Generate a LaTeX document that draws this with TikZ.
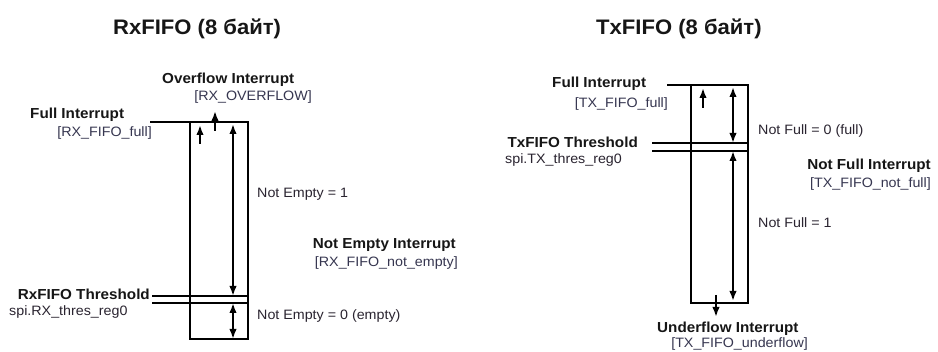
\documentclass[tikz,border=0pt]{standalone}
\usepackage{fontspec}
\setmainfont{Liberation Sans}[FakeStretch=1.05]
\usetikzlibrary{arrows.meta}
\definecolor{txtc}{HTML}{2A2430}
\definecolor{boldc}{HTML}{161616}
\definecolor{brc}{HTML}{363650}
\begin{document}
\begin{tikzpicture}[x=1pt,y=-1pt,
  norm/.style={font=\fontsize{13.6}{15}\selectfont, text=txtc, inner sep=0pt},
  bld/.style={font=\fontsize{14.5}{16}\selectfont\bfseries, text=boldc, inner sep=0pt},
  brk/.style={font=\fontsize{13.6}{15}\selectfont, text=brc, inner sep=0pt},
  ttl/.style={font=\fontsize{21}{23}\selectfont\bfseries, text=boldc, inner sep=0pt},
  ln/.style={line width=2.5pt},
  arr/.style={line width=2.2pt, -{Latex[length=10pt,width=7.5pt]}},
  darr/.style={line width=2.2pt, {Latex[length=10pt,width=7.5pt]}-{Latex[length=10pt,width=7.5pt]}}]
\useasboundingbox[fill=white] (0,0) rectangle (938,352);

% ===== RxFIFO =====
\node[ttl, anchor=base west] (rxt) at (113,35) {RxFIFO (8 байт)};
\draw[ln] (190,122) rectangle (248,339);
\coordinate (rxtopL) at (150,122);
\coordinate (rxtopR) at (248,122);
\draw[ln] (rxtopL) -- (rxtopR);
\coordinate (rxth1L) at (152,296); \coordinate (rxth1R) at (248,296);
\coordinate (rxth2L) at (152,303); \coordinate (rxth2R) at (248,303);
\draw[ln] (rxth1L) -- (rxth1R);
\draw[ln] (rxth2L) -- (rxth2R);
% arrows
\coordinate (ra1) at (200,144); \coordinate (ra1e) at (200,125);
\draw[arr] (ra1) -- (ra1e);
\coordinate (ra2) at (215,131); \coordinate (ra2e) at (215,111);
\draw[arr] (ra2) -- (ra2e);
\coordinate (ra3) at (233,124); \coordinate (ra3e) at (233,296);
\draw[darr] (ra3) -- (ra3e);
\coordinate (ra4) at (233,303); \coordinate (ra4e) at (233,339);
\draw[darr] (ra4) -- (ra4e);
% labels
\node[bld, anchor=base west] (ovf) at (162,84) {Overflow Interrupt};
\node[brk, anchor=base east] (ovfb) at (312,101) {[RX\_OVERFLOW]};
\node[bld, anchor=base west] (rxfull) at (30,119) {Full Interrupt};
\node[brk, anchor=base east] (rxfullb) at (152,137) {[RX\_FIFO\_full]};
\node[norm, anchor=base west] (ne1) at (257,198) {Not Empty = 1};
\node[bld, anchor=base east] (nei) at (456,249) {Not Empty Interrupt};
\node[brk, anchor=base east] (neib) at (458,267) {[RX\_FIFO\_not\_empty]};
\node[bld, anchor=base east] (rxth) at (150,300) {RxFIFO Threshold};
\node[norm, anchor=base west] (rxreg) at (9,316) {spi.RX\_thres\_reg0};
\node[norm, anchor=base west] (ne0) at (257,320) {Not Empty = 0 (empty)};

% ===== TxFIFO =====
\node[ttl, anchor=base west] (txt) at (596,35) {TxFIFO (8 байт)};
\draw[ln] (691,85) rectangle (748,303);
\coordinate (txtopL) at (667,85); \coordinate (txtopR) at (748,85);
\draw[ln] (txtopL) -- (txtopR);
\coordinate (txth1L) at (652,143); \coordinate (txth1R) at (748,143);
\coordinate (txth2L) at (652,151); \coordinate (txth2R) at (748,151);
\draw[ln] (txth1L) -- (txth1R);
\draw[ln] (txth2L) -- (txth2R);
\coordinate (ta1) at (703,108); \coordinate (ta1e) at (703,88);
\draw[arr] (ta1) -- (ta1e);
\coordinate (ta2) at (733,87); \coordinate (ta2e) at (733,143);
\draw[darr] (ta2) -- (ta2e);
\coordinate (ta3) at (733,151); \coordinate (ta3e) at (733,301);
\draw[darr] (ta3) -- (ta3e);
\coordinate (ta4) at (716,295); \coordinate (ta4e) at (716,317);
\draw[arr] (ta4) -- (ta4e);
% labels
\node[bld, anchor=base west] (txfull) at (552,88) {Full Interrupt};
\node[brk, anchor=base east] (txfullb) at (668,108) {[TX\_FIFO\_full]};
\node[norm, anchor=base west] (nf0) at (758,135) {Not Full = 0 (full)};
\node[bld, anchor=base east] (txth) at (638,148) {TxFIFO Threshold};
\node[norm, anchor=base west] (txreg) at (505,164) {spi.TX\_thres\_reg0};
\node[bld, anchor=base east] (nfi) at (931,170) {Not Full Interrupt};
\node[brk, anchor=base east] (nfib) at (931,188) {[TX\_FIFO\_not\_full]};
\node[norm, anchor=base west] (nf1) at (758,228) {Not Full = 1};
\node[bld, anchor=base west] (ufi) at (657,333) {Underflow Interrupt};
\node[brk, anchor=base east] (ufib) at (808,348) {[TX\_FIFO\_underflow]};
\end{tikzpicture}
\end{document}
